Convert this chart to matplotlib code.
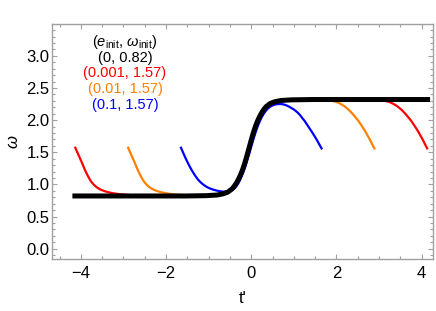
import numpy as np
import matplotlib
matplotlib.use("Agg")
import matplotlib.pyplot as plt
from matplotlib.ticker import MultipleLocator, FormatStrFormatter, FuncFormatter

plt.rcParams['font.family'] = ['Liberation Sans', 'DejaVu Sans']
plt.rcParams['mathtext.fontset'] = 'custom'
plt.rcParams['mathtext.rm'] = 'Liberation Sans'
plt.rcParams['mathtext.it'] = 'Liberation Sans:italic'

# black curve (e_init=0, w_init=0.82)
black_t = np.array([-4.14, -2.5, -1.55, -1.05, -0.8, -0.65, -0.55, -0.45, -0.4, -0.35, -0.3,
                    -0.25, -0.2, -0.15, -0.1, -0.05, 0.0, 0.05, 0.1, 0.15, 0.2, 0.25, 0.3,
                    0.35, 0.45, 0.55, 0.7, 0.95, 1.45, 2.5, 4.14])
black_w = np.array([0.82, 0.82, 0.82, 0.825, 0.835, 0.855, 0.88, 0.93, 0.97, 1.02, 1.08,
                    1.15, 1.235, 1.335, 1.45, 1.57, 1.69, 1.805, 1.905, 1.99, 2.06, 2.12, 2.17,
                    2.21, 2.26, 2.285, 2.305, 2.315, 2.32, 2.32, 2.32])

# red (0.001, 1.57)
red_left_t = np.array([-4.13, -4.08, -4.03, -3.98, -3.93, -3.88, -3.83, -3.78, -3.73, -3.68,
                       -3.63, -3.58, -3.53, -3.43, -3.33, -3.23, -3.13, -2.93, -2.73, -2.43, -2.13])
red_left_w = np.array([1.57, 1.495, 1.42, 1.345, 1.265, 1.19, 1.125, 1.065, 1.02, 0.985,
                       0.957, 0.935, 0.917, 0.892, 0.874, 0.861, 0.851, 0.838, 0.83, 0.824, 0.82])
red_right_t = np.array([2.83, 2.98, 3.13, 3.23, 3.33, 3.43, 3.53, 3.58, 3.63, 3.68, 3.73,
                        3.78, 3.83, 3.88, 3.93, 3.98, 4.03, 4.08, 4.13])
red_right_w = np.array([2.32, 2.315, 2.30, 2.285, 2.255, 2.215, 2.16, 2.125, 2.09, 2.05, 2.01,
                        1.965, 1.915, 1.865, 1.81, 1.75, 1.69, 1.625, 1.56])

# orange (0.01, 1.57)
orange_left_t = np.array([-2.89, -2.84, -2.79, -2.74, -2.69, -2.64, -2.59, -2.54, -2.49, -2.44,
                          -2.39, -2.34, -2.29, -2.19, -2.09, -1.99, -1.89, -1.69, -1.49, -1.19, -0.89])
orange_left_w = np.array([1.57, 1.495, 1.42, 1.345, 1.265, 1.19, 1.125, 1.065, 1.02, 0.985,
                          0.957, 0.935, 0.917, 0.892, 0.874, 0.861, 0.851, 0.838, 0.83, 0.824, 0.825])
orange_right_t = np.array([1.59, 1.74, 1.89, 1.99, 2.09, 2.19, 2.29, 2.34, 2.39, 2.44, 2.49,
                           2.54, 2.59, 2.64, 2.69, 2.74, 2.79, 2.84, 2.89])
orange_right_w = np.array([2.32, 2.315, 2.30, 2.285, 2.255, 2.215, 2.16, 2.125, 2.09, 2.05, 2.01,
                           1.965, 1.915, 1.865, 1.81, 1.75, 1.69, 1.625, 1.56])

# blue (0.1, 1.57)
blue_t = np.array([-1.65, -1.60, -1.55, -1.50, -1.45, -1.40, -1.35, -1.30, -1.25, -1.20,
                   -1.15, -1.10, -1.05, -1.0, -0.9, -0.8, -0.7, -0.62, -0.55, -0.5, -0.45,
                   -0.4, -0.35, -0.3, -0.25, -0.2, -0.15, -0.1, -0.05, 0.0, 0.05, 0.1, 0.15,
                   0.2, 0.25, 0.3, 0.35, 0.4, 0.45, 0.5, 0.55, 0.6, 0.65, 0.7, 0.75, 0.8,
                   0.85, 0.9, 0.95, 1.0, 1.05, 1.1, 1.15, 1.2, 1.25, 1.3, 1.35, 1.4, 1.45,
                   1.5, 1.55, 1.6, 1.65])
blue_w = np.array([1.57, 1.495, 1.42, 1.35, 1.285, 1.225, 1.17, 1.12, 1.075, 1.04,
                   1.01, 0.985, 0.963, 0.945, 0.92, 0.902, 0.89, 0.886, 0.89, 0.897, 0.91,
                   0.935, 0.97, 1.02, 1.085, 1.165, 1.255, 1.36, 1.47, 1.585, 1.70, 1.805, 1.90,
                   1.98, 2.05, 2.105, 2.15, 2.185, 2.21, 2.228, 2.24, 2.247, 2.25, 2.25, 2.245, 2.235,
                   2.222, 2.205, 2.185, 2.165, 2.14, 2.11, 2.075, 2.03, 1.99, 1.94, 1.89, 1.84, 1.79,
                   1.735, 1.68, 1.62, 1.56])

legend_title = r'$(e_{\mathrm{init}}$, $\omega_{\mathrm{init}})$'
legend_rows = ['(0, 0.82)', '(0.001, 1.57)', '(0.01, 1.57)', '(0.1, 1.57)']
legend_colors = ['black', '#ff0000', '#ff8000', '#0000ff']

fig = plt.figure(figsize=(4.36, 3.11), dpi=100)
ax = fig.add_axes([0.12, 0.1662, 0.8724, 0.7557])

def middle(lo, hi):
    m = (black_t > lo) & (black_t < hi)
    return black_t[m], black_w[m]

mt, mw = middle(red_left_t[-1], red_right_t[0])
ax.plot(np.concatenate([red_left_t, mt, red_right_t]),
        np.concatenate([red_left_w, mw, red_right_w]), color='#ff0000', lw=1.6)
mt, mw = middle(orange_left_t[-1], orange_right_t[0])
ax.plot(np.concatenate([orange_left_t, mt, orange_right_t]),
        np.concatenate([orange_left_w, mw, orange_right_w]), color='#ff8000', lw=1.6)
ax.plot(blue_t, blue_w, color='#0000ff', lw=1.6)
ax.plot(black_t, black_w, color='black', lw=3.6, zorder=3)

ax.set_xlim(-4.67, 4.26)
ax.set_ylim(-0.165, 3.49)
ax.xaxis.set_major_locator(MultipleLocator(2))
ax.xaxis.set_minor_locator(MultipleLocator(0.5))
ax.yaxis.set_major_locator(MultipleLocator(0.5))
ax.yaxis.set_minor_locator(MultipleLocator(0.1))
ax.yaxis.set_major_formatter(FormatStrFormatter('%.1f'))
ax.xaxis.set_major_formatter(FuncFormatter(lambda v, p: '%d' % v if v >= 0 else '\u2212%d' % -v))

frame = '#a0a0a0'
for s in ax.spines.values():
    s.set_color(frame)
    s.set_linewidth(1.0)
ax.tick_params(which='both', direction='in', top=True, right=True, color=frame,
               labelsize=12, width=0.8)
ax.tick_params(which='major', length=3.5)
ax.tick_params(which='minor', length=2)
ax.tick_params(axis='x', pad=5)
ax.tick_params(axis='y', pad=2)

ax.set_xlabel("t'", fontsize=12, labelpad=7)
ax.set_ylabel(r'$\omega$', fontsize=12, labelpad=4)

ax.text(0.191, 0.925, legend_title, transform=ax.transAxes, ha='center', va='center',
        fontsize=10.5, color='black')
for i, (row, c) in enumerate(zip(legend_rows, legend_colors)):
    ax.text(0.191, 0.925 - 0.067 * (i + 1), row, transform=ax.transAxes, ha='center',
            va='center', fontsize=10.5, color=c)

fig.savefig('out.png', dpi=100)
